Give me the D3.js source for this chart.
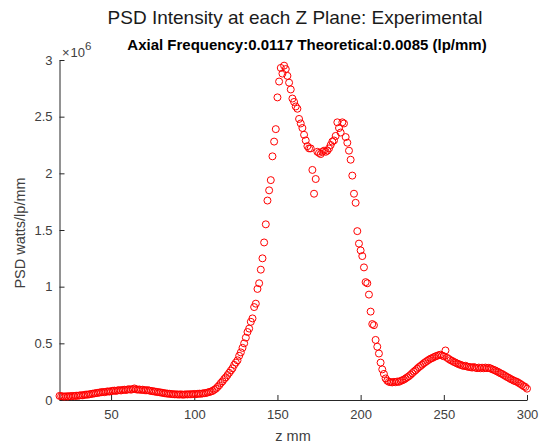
<!DOCTYPE html>
<html>
<head>
<meta charset="utf-8">
<script src="https://cdn.jsdelivr.net/npm/d3@7/dist/d3.min.js"></script>
<style>
  body { margin: 0; background: #fff; }
  svg { display: block; font-family: "Liberation Sans", Arial, Helvetica, sans-serif; }
</style>
</head>
<body>
<svg id="chart" width="541" height="446"></svg>
<script>
// Z plane positions (mm)
const zPlanes = [
  19, 20, 21, 22, 23, 24, 25, 26, 27, 28, 29, 30, 31, 32, 33, 34, 35, 36, 37, 38, 39,
  40, 41, 42, 43, 44, 45, 46, 47, 48, 49, 50, 51, 52, 53, 54, 55, 56, 57, 58, 59,
  60, 61, 62, 63, 64, 65, 66, 67, 68, 69, 70, 71, 72, 73, 74, 75, 76, 77, 78, 79,
  80, 81, 82, 83, 84, 85, 86, 87, 88, 89, 90, 91, 92, 93, 94, 95, 96, 97, 98, 99,
  100, 101, 102, 103, 104, 105, 106, 107, 108, 109, 110, 111, 112, 113, 114, 115, 116, 117, 118, 119,
  120, 121, 122, 123, 124, 125, 126, 127, 128, 129, 130, 131, 132, 133, 134, 135, 136, 137, 138, 139,
  140, 141, 142, 143, 144, 145, 146, 147, 148, 149, 150, 151, 152, 153, 154, 155, 156, 157, 158, 159,
  160, 161, 162, 163, 164, 165, 166, 167, 168, 169, 170, 171, 172, 173, 174, 175, 176, 177, 178, 179,
  180, 181, 182, 183, 184, 185, 186, 187, 188, 189, 190, 191, 192, 193, 194, 195, 196, 197, 198, 199,
  200, 201, 202, 203, 204, 205, 206, 207, 208, 209, 210, 211, 212, 213, 214, 215, 216, 217, 218, 219,
  220, 221, 222, 223, 224, 225, 226, 227, 228, 229, 230, 231, 232, 233, 234, 235, 236, 237, 238, 239,
  240, 241, 242, 243, 244, 245, 246, 247, 248, 249, 250, 251, 252, 253, 254, 255, 256, 257, 258, 259,
  260, 261, 262, 263, 264, 265, 266, 267, 268, 269, 270, 271, 272, 273, 274, 275, 276, 277, 278, 279,
  280, 281, 282, 283, 284, 285, 286, 287, 288, 289, 290, 291, 292, 293, 294, 295, 296, 297, 298, 299,
  300
];

// PSD intensity per plane, in units of 10^6 watts/lp/mm
const psdMillions = [
  0.036, 0.034, 0.032, 0.030, 0.033, 0.031, 0.035, 0.033, 0.036, 0.034, 0.038, 0.037, 0.040, 0.042, 0.041, 0.045, 0.048, 0.047, 0.051, 0.053, 0.056,
  0.058, 0.061, 0.063, 0.066, 0.068, 0.071, 0.069, 0.073, 0.076, 0.074, 0.078, 0.081, 0.083, 0.080, 0.085, 0.087, 0.084, 0.089, 0.091, 0.088,
  0.093, 0.095, 0.091, 0.096, 0.102, 0.094, 0.091, 0.093, 0.089, 0.091, 0.087, 0.085, 0.087, 0.083, 0.080, 0.078, 0.075, 0.073, 0.070, 0.068,
  0.066, 0.063, 0.060, 0.058, 0.056, 0.055, 0.053, 0.052, 0.050, 0.050, 0.049, 0.048, 0.050, 0.047, 0.048, 0.050, 0.049, 0.051, 0.050, 0.052,
  0.053, 0.051, 0.054, 0.056, 0.055, 0.058, 0.060, 0.062, 0.066, 0.070, 0.075, 0.080, 0.090, 0.100, 0.115, 0.130, 0.150, 0.165, 0.185, 0.200,
  0.220, 0.240, 0.260, 0.280, 0.310, 0.330, 0.350, 0.390, 0.420, 0.460, 0.500, 0.550, 0.600, 0.630, 0.690, 0.720, 0.820, 0.850, 0.980, 1.030,
  1.150, 1.250, 1.390, 1.550, 1.760, 1.850, 1.940, 2.150, 2.280, 2.390, 2.670, 2.810, 2.930, 2.880, 2.950, 2.920, 2.860, 2.800, 2.740, 2.660,
  2.630, 2.590, 2.570, 2.480, 2.440, 2.400, 2.340, 2.290, 2.240, 2.220, 2.220, 2.030, 1.820, 1.950, 2.190, 2.180, 2.170, 2.190, 2.200, 2.190,
  2.200, 2.220, 2.250, 2.280, 2.290, 2.330, 2.450, 2.400, 2.360, 2.450, 2.440, 2.320, 2.270, 2.200, 2.120, 1.980, 1.820, 1.740, 1.490, 1.380,
  1.320, 1.270, 1.170, 1.040, 1.030, 0.930, 0.780, 0.670, 0.660, 0.530, 0.470, 0.410, 0.330, 0.270, 0.230, 0.190, 0.170, 0.160, 0.158, 0.155,
  0.160, 0.157, 0.163, 0.160, 0.168, 0.174, 0.180, 0.190, 0.200, 0.210, 0.222, 0.236, 0.250, 0.262, 0.276, 0.290, 0.300, 0.312, 0.325, 0.335,
  0.345, 0.355, 0.364, 0.370, 0.378, 0.385, 0.390, 0.396, 0.400, 0.392, 0.386, 0.437, 0.372, 0.362, 0.352, 0.345, 0.336, 0.330, 0.322, 0.316,
  0.310, 0.305, 0.300, 0.302, 0.295, 0.292, 0.290, 0.286, 0.291, 0.285, 0.281, 0.286, 0.280, 0.285, 0.280, 0.286, 0.281, 0.284, 0.279, 0.272,
  0.266, 0.260, 0.252, 0.245, 0.236, 0.230, 0.221, 0.212, 0.203, 0.196, 0.186, 0.180, 0.171, 0.166, 0.160, 0.151, 0.142, 0.132, 0.122, 0.115,
  0.100
];

const xTicks = [50, 100, 150, 200, 250, 300];
const yTicks = [0, 0.5, 1, 1.5, 2, 2.5, 3];
const yTickLabels = ["0", "0.5", "1", "1.5", "2", "2.5", "3"];

const titleText = "PSD Intensity at each Z Plane: Experimental";
const subtitleText = "Axial Frequency:0.0117 Theoretical:0.0085 (lp/mm)";
const xLabelText = "z mm";
const yLabelText = "PSD watts/lp/mm";

const points = zPlanes.map((z, i) => ({ z, v: psdMillions[i] }));

const svg = d3.select("#chart");
const axisColor = "#262626";
const labelColor = "#404040";

const x = d3.scaleLinear().domain([19, 300]).range([59.5, 527]);
const y = d3.scaleLinear().domain([0, 3]).range([400, 60]);

// y axis (ticks point inward)
const yAxis = svg.append("g")
  .attr("transform", "translate(59.5,0)")
  .call(d3.axisLeft(y)
    .tickValues(yTicks)
    .tickFormat((d, i) => yTickLabels[i])
    .tickSizeInner(-5)
    .tickSizeOuter(0)
    .tickPadding(7));

// x axis (ticks point inward)
const xAxis = svg.append("g")
  .attr("transform", "translate(0,400)")
  .call(d3.axisBottom(x)
    .tickValues(xTicks)
    .tickFormat(d3.format("d"))
    .tickSizeInner(-5)
    .tickSizeOuter(0)
    .tickPadding(10));

[yAxis, xAxis].forEach(g => {
  g.select(".domain").attr("stroke", axisColor).attr("stroke-width", 1);
  g.selectAll(".tick line").attr("stroke", axisColor);
  g.selectAll(".tick text")
    .attr("fill", labelColor)
    .style("font-size", "13px")
    .style("font-family", '"Liberation Sans", Arial, sans-serif');
});

// exponent marker for the y axis
const expo = svg.append("text")
  .attr("x", 62)
  .attr("y", 57)
  .attr("fill", labelColor)
  .style("font-size", "13px");
expo.append("tspan").text("\u00d7");
expo.append("tspan").attr("dx", 1).text("10");
expo.append("tspan").attr("dy", -7).style("font-size", "11.5px").text("6");

// data markers
svg.append("g")
  .selectAll("circle")
  .data(points)
  .join("circle")
  .attr("cx", d => x(d.z))
  .attr("cy", d => y(d.v))
  .attr("r", 3.5)
  .attr("fill", "none")
  .attr("stroke", "#ff0000")
  .attr("stroke-width", 1);

// titles
svg.append("text")
  .attr("x", 295)
  .attr("y", 24)
  .attr("text-anchor", "middle")
  .attr("fill", "#1a1a1a")
  .style("font-size", "19px")
  .text(titleText);

svg.append("text")
  .attr("x", 307)
  .attr("y", 50)
  .attr("text-anchor", "middle")
  .attr("fill", "#000")
  .style("font-size", "15px")
  .style("font-weight", "bold")
  .text(subtitleText);

// axis labels
svg.append("text")
  .attr("x", 293)
  .attr("y", 441)
  .attr("text-anchor", "middle")
  .attr("fill", labelColor)
  .style("font-size", "14.5px")
  .text(xLabelText);

svg.append("text")
  .attr("transform", "translate(25,233) rotate(-90)")
  .attr("text-anchor", "middle")
  .attr("fill", labelColor)
  .style("font-size", "14.5px")
  .text(yLabelText);
</script>
</body>
</html>
